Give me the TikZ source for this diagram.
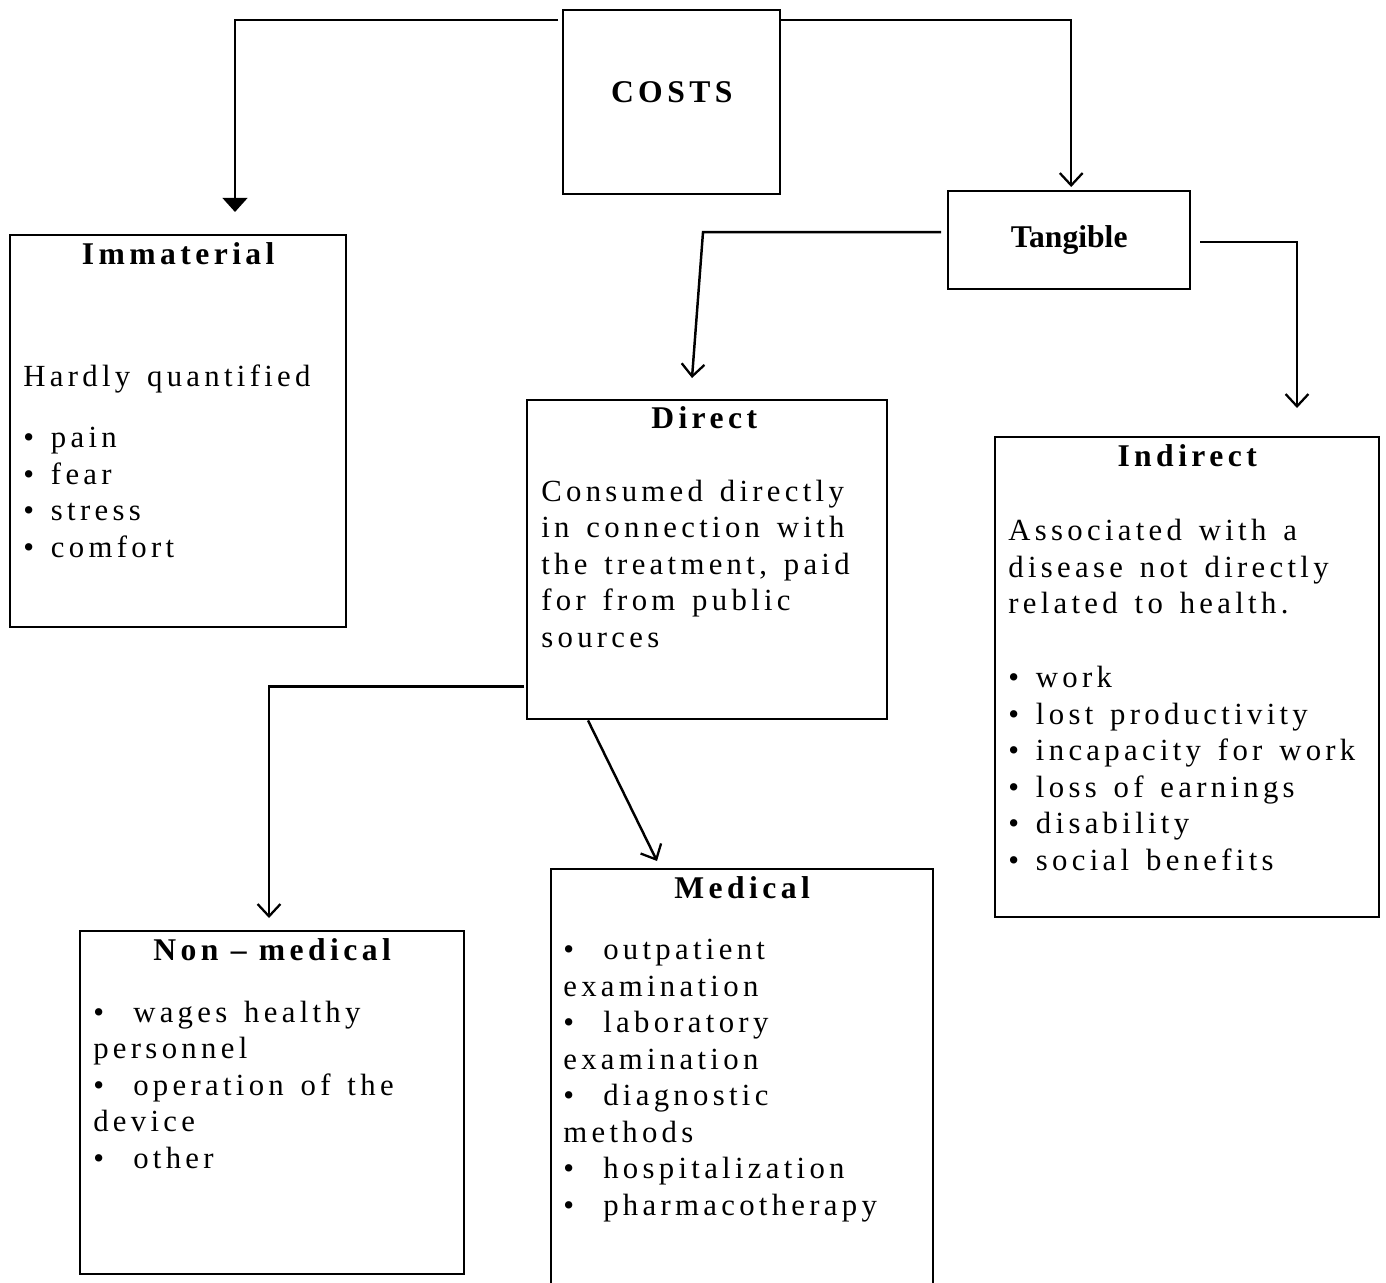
\documentclass[tikz,border=0pt]{standalone}
\usepackage{fontspec}
\setmainfont{Liberation Serif}
\newfontfamily\spaced[LetterSpace=14]{Liberation Serif}
\newcommand\bodyfont{\spaced\fontsize{17.5}{20.75}\selectfont
  \spaceskip 9.6pt plus 2pt minus 1pt\relax}
\newcommand\itmw{•\ \hspace{7pt}}
\usetikzlibrary{arrows.meta,positioning,calc}

\tikzset{
  box/.style={draw, line width=1.4pt, anchor=north west, inner sep=0pt},
  head/.style={anchor=base, inner sep=0pt, font=\spaced\bfseries\fontsize{18}{21}\selectfont},
  body/.style={anchor=base west, align=left, inner sep=0pt, font=\bodyfont},
  link/.style={line width=1.4pt},
  openarrow/.style={link, -{Straight Barb[length=7pt,width=13pt,line width=1.3pt]}},
  fillarrow/.style={link, -{Triangle[length=8pt,width=14pt]}}
}

\begin{document}
\begin{tikzpicture}[x=0.02cm, y=-0.02cm]
\useasboundingbox (0,0) rectangle (1386,1282);

% boxes
\node[box, minimum width=4.34cm, minimum height=3.68cm] (costs) at (562,9) {};
\node[box, minimum width=4.84cm, minimum height=1.96cm,
      font=\bfseries\fontsize{18}{21}\selectfont] (tang) at (947,190) {Tangible};
\node[box, minimum width=6.72cm, minimum height=7.84cm] (imm) at (9,234) {};
\node[box, minimum width=7.2cm, minimum height=6.38cm] (dir) at (526,399) {};
\node[box, minimum width=7.68cm, minimum height=9.6cm] (ind) at (994,436) {};
\node[box, minimum width=7.68cm, minimum height=6.86cm] (nonmed) at (79,930) {};
\node[box, minimum width=7.64cm, minimum height=8.48cm] (med) at (550,868) {};

% headings
\node[head] (costslbl) at (costs.center) {COSTS};
\node[head] (immhd) at ($(imm.north)+(0,30)$) {Immaterial};
\node[head] (dirhd) at ($(dir.north)+(-3,29)$) {Direct};
\node[head] (indhd) at ($(ind.north)+(0,30)$) {Indirect};
\node[head] (nonmedhd) at ($(nonmed.north)+(0,30)$) {Non – medical};
\node[head] (medhd) at ($(med.north)+(0,30)$) {Medical};

% texts (anchored at the baseline of the last line)
\node[body] (immtxt) at ($(imm.north west)+(14,323)$)
  {Hardly quantified\\[0.5cm]
   • pain\\ • fear\\ • stress\\ • comfort};
\node[body] (dirtxt) at ($(dir.north west)+(15,248)$)
  {Consumed directly\\ in connection with\\ the treatment, paid\\
   for from public\\ sources};
\node[body] (indtxt) at ($(ind.north west)+(14,434)$)
  {Associated with a\\ disease not directly\\ related to health.\\[0.75cm]
   • work\\ • lost productivity\\ • incapacity for work\\
   • loss of earnings\\ • disability\\ • social benefits};
\node[body] (nonmedtxt) at ($(nonmed.north west)+(14,238)$)
  {\itmw wages healthy\\ personnel\\ \itmw operation of the\\ device\\ \itmw other};
\node[body] (medtxt) at ($(med.north west)+(13,347)$)
  {\itmw outpatient\\ examination\\ \itmw laboratory\\ examination\\
   \itmw diagnostic\\ methods\\ \itmw hospitalization\\ \itmw pharmacotherapy};

% arrow ends
\coordinate (immtip) at (235,212);
\coordinate (dirtip) at (692,378);
\coordinate (indtip) at (1297,408);
\coordinate (nmtip) at (269,918);
\coordinate (medtip) at (657,861);

% connectors
\draw[fillarrow] ($(costs.north west)+(-4,11)$) -| (immtip);
\draw[openarrow] ($(costs.north east)+(0,11)$) -| ($(tang.north)+(2,-3)$);
\draw[openarrow] ($(tang.west)+(-6,-8)$) -- ++(-238,0) -- (dirtip);
\draw[openarrow] ($(tang.east)+(9,2)$) -| (indtip);
\draw[openarrow] ($(dir.south west)+(-2,-34)$) -| (nmtip);
\draw[openarrow] ($(dir.south west)+(62,0)$) -- (medtip);
\end{tikzpicture}
\end{document}
